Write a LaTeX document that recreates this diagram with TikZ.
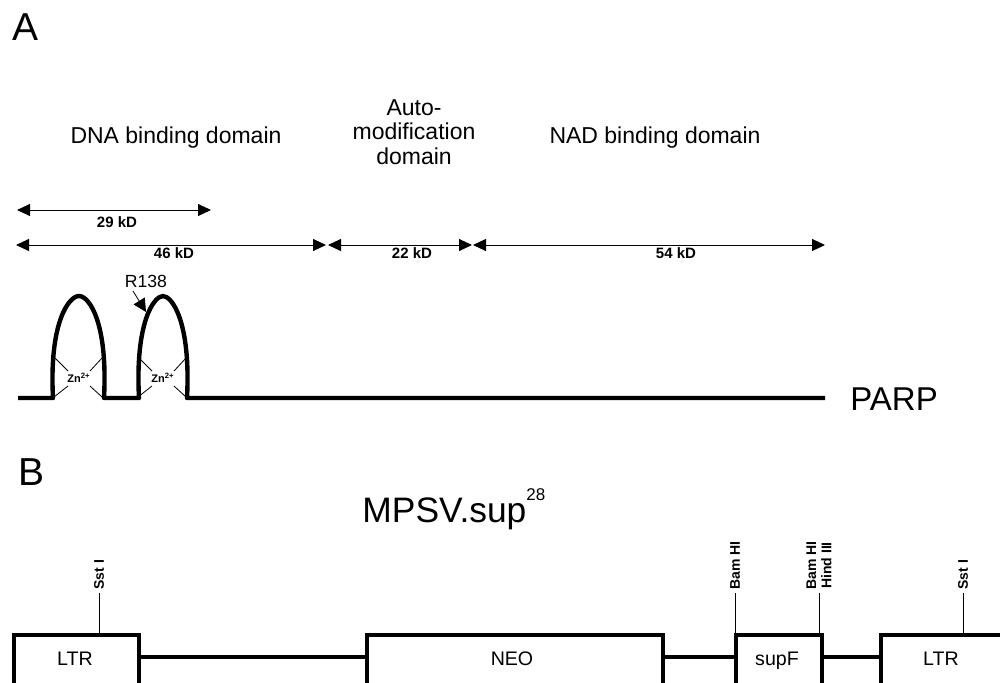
\documentclass[tikz,border=0pt]{standalone}
\usepackage{fontspec}
\setmainfont{Liberation Sans}
\usetikzlibrary{arrows.meta}
\tikzset{
  spanArrow/.style={{Triangle[length=6.5pt,width=6pt]}-{Triangle[length=6.5pt,width=6pt]},line width=0.5pt},
  kdLabel/.style={font=\fontsize{7.5}{9}\selectfont\bfseries,inner sep=0pt},
  headText/.style={font=\fontsize{11.5}{12.3}\selectfont,align=center,inner sep=0pt},
  panelTag/.style={font=\fontsize{19.5}{22}\selectfont,inner sep=0pt,anchor=base west},
  chainLine/.style={line width=2.2pt,line join=round},
  znText/.style={font=\fontsize{5.5}{6}\selectfont\bfseries,inner sep=0.5pt},
  znLine/.style={line width=0.4pt},
  geneBox/.style={draw,line width=2pt,inner sep=0pt,anchor=north west,minimum height=35pt},
  boxText/.style={font=\fontsize{9.8}{11}\selectfont,inner sep=0pt,anchor=base},
  siteTick/.style={line width=0.5pt},
  siteText/.style={font=\fontsize{7}{7.6}\selectfont\bfseries,rotate=90,anchor=west,inner sep=1.5pt,align=center}
}
\begin{document}
\begin{tikzpicture}[x=0.5pt,y=-0.5pt]
  \clip (0,0) rectangle (1000,682);

  % panel A
  \node[panelTag] (tagA) at (12,40) {A};
  \node[headText,anchor=base] (dnaT) at (176,143) {DNA binding domain};
  \node[headText] (autoT) at (414,132) {Auto-\\modification\\domain};
  \node[headText,anchor=base] (nadT) at (655,143) {NAD binding domain};

  \coordinate (s0) at (17,210);
  \coordinate (s1) at (211,210);
  \foreach \x/\n in {16/d0,326/d1,328/a0,472/a1,473/n0,825/n1}
    \coordinate (\n) at (\x,245);
  \draw[spanArrow] (s0) -- (s1);
  \draw[spanArrow] (d0) -- (d1);
  \draw[spanArrow] (a0) -- (a1);
  \draw[spanArrow] (n0) -- (n1);
  \foreach \x/\y/\t/\n in {117/222/29/k29,174/253/46/k46,412/253/22/k22,676/253/54/k54}
    \node[kdLabel] (\n) at (\x,\y) {\t\ kD};

  % protein with two zinc fingers
  \coordinate (pStart) at (18,398);
  \coordinate (pEnd) at (825,398);
  \draw[chainLine] (pStart) -- (53,398)
    .. controls (49,322) and (69,296) .. (79,296)
    .. controls (89,296) and (108,322) .. (104,398)
    -- (139,398)
    .. controls (135,322) and (154,296) .. (163,296)
    .. controls (172,296) and (191,322) .. (187,398)
    -- (pEnd);
  \node[font=\fontsize{16.5}{18}\selectfont,inner sep=0pt,anchor=base west] (parp) at (850,410) {PARP};

  \node[znText] (zn1) at (79,378) {Zn\textsuperscript{2+}};
  \node[znText] (zn2) at (163,378) {Zn\textsuperscript{2+}};
  \foreach \z in {zn1,zn2} {
    \draw[znLine] ([shift={(-24,-20)}]\z.center) -- ([shift={(-11,-7)}]\z.center);
    \draw[znLine] ([shift={(-25,19)}]\z.center) -- ([shift={(-11,8)}]\z.center);
    \draw[znLine] ([shift={(23,-20)}]\z.center) -- ([shift={(11,-7)}]\z.center);
    \draw[znLine] ([shift={(23,19)}]\z.center) -- ([shift={(11,8)}]\z.center);
  }

  \node[font=\fontsize{8.8}{10}\selectfont,inner sep=0pt] (r138) at (146,281) {R138};
  \coordinate (r138tip) at (146,312);
  \draw[line width=0.4pt,-{Triangle[length=6.5pt,width=6.5pt]}] (133,291) -- (r138tip);

  % panel B
  \node[panelTag] (tagB) at (18,485) {B};
  \node[font=\fontsize{17.7}{20}\selectfont,inner sep=0pt,anchor=base west] (mpsv) at (362,522)
    {MPSV.sup\raisebox{11pt}{\fontsize{8.5}{9}\selectfont 28}};

  \node[geneBox,minimum width=62.5pt] (ltrA) at (12,633) {};
  \node[geneBox,minimum width=148pt] (neo) at (365,633) {};
  \node[geneBox,minimum width=43pt] (supF) at (734,633) {};
  \node[geneBox,minimum width=70pt] (ltrB) at (879,633) {};

  \node[boxText] (ltrAt) at (75,665) {LTR};
  \node[boxText] (neot) at (512,665) {NEO};
  \node[boxText] (supFt) at (777,665) {supF};
  \node[boxText] (ltrBt) at (941,665) {LTR};

  \draw[chainLine] ([yshift=-12pt]ltrA.north east) -- ([yshift=-12pt]neo.north west);
  \draw[chainLine] ([yshift=-12pt]neo.north east) -- ([yshift=-12pt]supF.north west);
  \draw[chainLine] ([yshift=-12pt]supF.north east) -- ([yshift=-12pt]ltrB.north west);

  % restriction sites
  \foreach \x/\n/\t in {99/sstA/Sst I,735/bamA/Bam HI,819/bamB/Bam HI\\Hind III,963/sstB/Sst I} {
    \coordinate (\n) at (\x,593);
    \draw[siteTick] (\n) -- (\x,633);
    \node[siteText] (\n t) at (\n) {\t};
  }
\end{tikzpicture}
\end{document}
